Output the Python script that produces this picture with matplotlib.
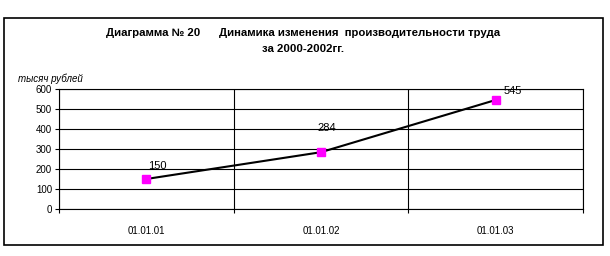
import matplotlib
matplotlib.use("Agg")
from matplotlib import pyplot as plt
from matplotlib.patches import Rectangle

dates = ["01.01.01", "01.01.02", "01.01.03"]
values = [150, 284, 545]
label_offsets = [(8, 6), (4, 14), (12, 3)]

plt.rcParams['font.family'] = ['Liberation Sans Narrow', 'Liberation Sans', 'DejaVu Sans']

fig = plt.figure(figsize=(6.1, 2.56), dpi=100)
fig.patches.append(Rectangle((0.0066, 0.043), 0.982, 0.887, transform=fig.transFigure,
                             fill=False, edgecolor="black", linewidth=1.2))

ax = fig.add_axes([0.0967, 0.1836, 0.8590, 0.4688])

x = [i + 0.5 for i in range(len(dates))]
ax.plot(x, values, color="black", linewidth=1.5, zorder=3)
ax.plot(x, values, linestyle="none", marker="s", markersize=6,
        markerfacecolor="#ff00ff", markeredgecolor="#ff00ff", zorder=4)
for xi, v, off in zip(x, values, label_offsets):
    ax.annotate(str(v), (xi, v), xytext=off, textcoords="offset points",
                ha="center", va="bottom", fontsize=8, family="Liberation Sans")

ax.set_xlim(0, 3)
ax.set_ylim(0, 600)
ax.set_yticks(range(0, 700, 100))
ax.set_xticks([0, 1, 2, 3])
ax.set_xticklabels([])
ax.set_xticks(x, minor=True)
ax.set_xticklabels(dates, minor=True)
ax.tick_params(axis="x", which="minor", length=0, pad=12, labelsize=7)
ax.tick_params(axis="x", which="major", length=3, direction="out")
ax.tick_params(axis="y", length=3, direction="out", labelsize=7, pad=2)
ax.grid(True, which="major", color="black", linewidth=0.8)
for s in ax.spines.values():
    s.set_linewidth(0.8)

ax.text(-0.078, 1.04, "тысяч рублей", transform=ax.transAxes, fontsize=7,
        style="italic", ha="left", va="bottom")

fig.text(0.497, 0.87, "Диаграмма № 20      Динамика изменения  производительности труда",
         ha="center", va="center", fontsize=8.2, fontweight="bold")
fig.text(0.497, 0.81, "за 2000-2002гг.", ha="center", va="center",
         fontsize=8.2, fontweight="bold")

fig.savefig("out.png", dpi=100)
